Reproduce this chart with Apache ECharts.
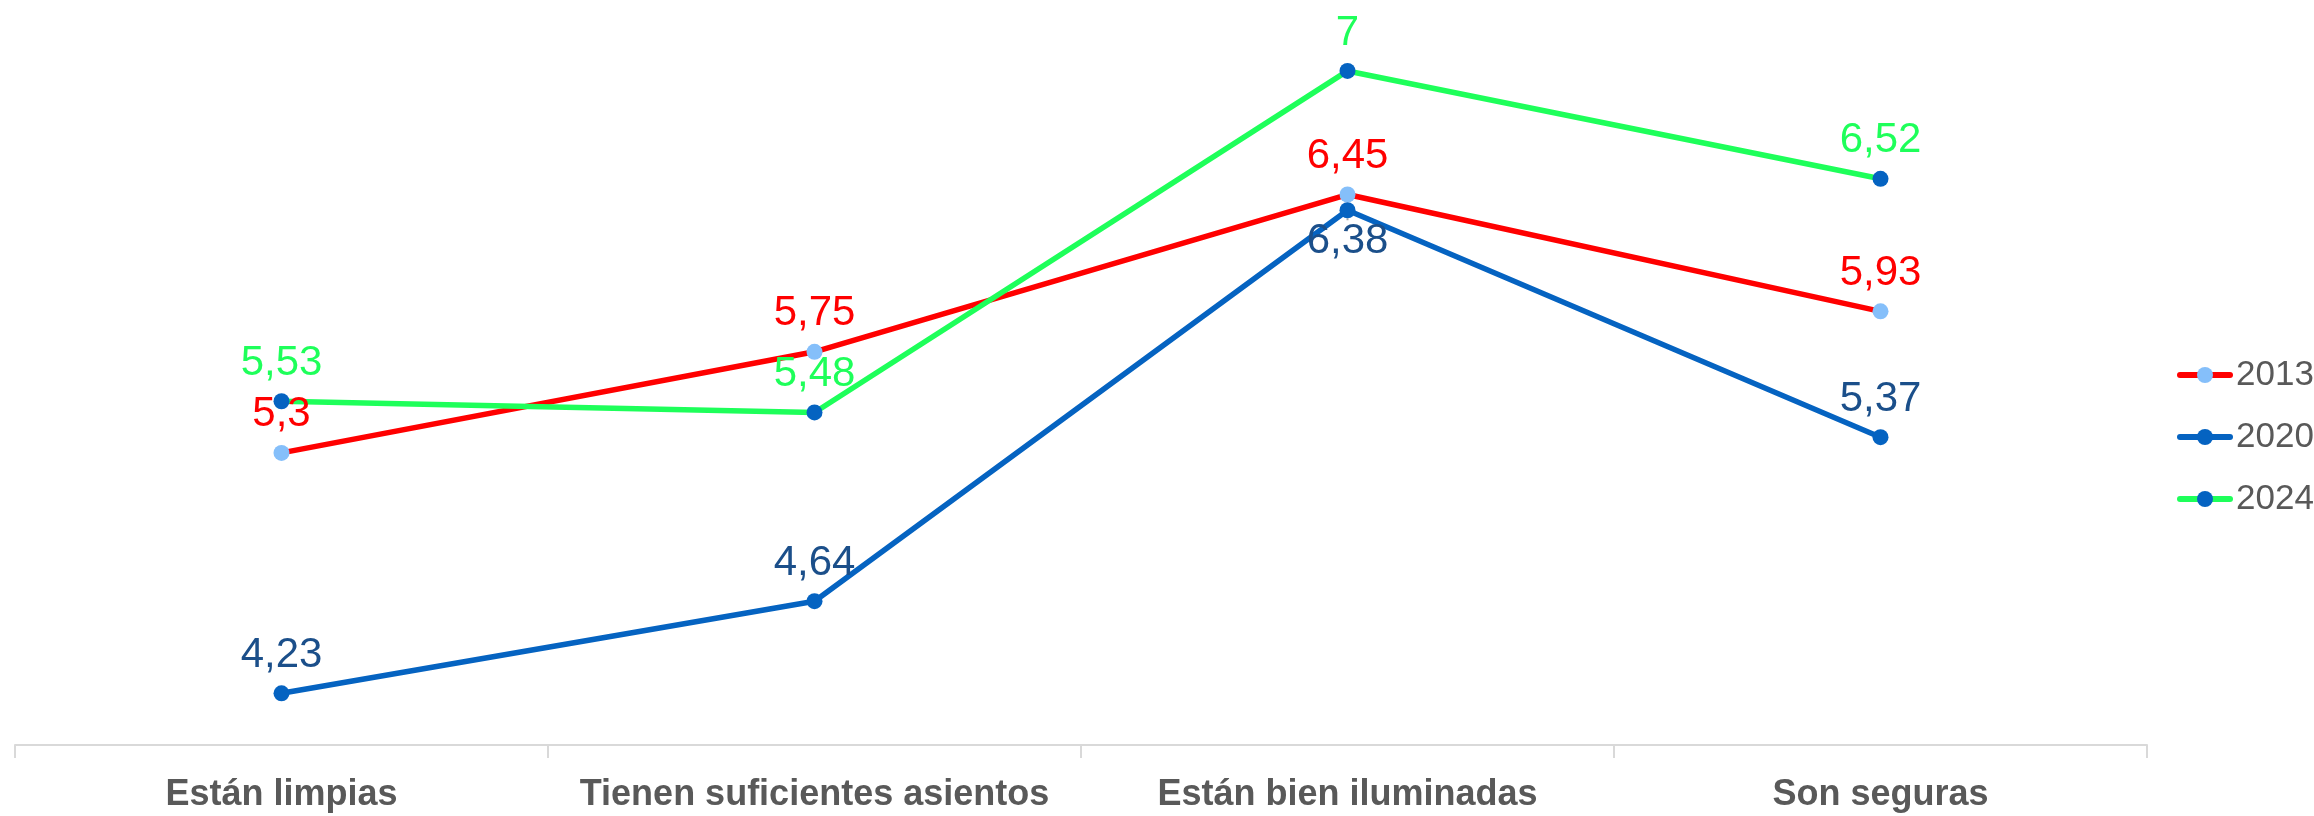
<!DOCTYPE html>
<html>
<head>
<meta charset="utf-8">
<script src="https://cdn.jsdelivr.net/npm/echarts@6/dist/echarts.min.js"></script>
<style>
html,body{margin:0;padding:0;background:#fff;}
#c{width:2314px;height:816px;}
</style>
</head>
<body>
<div id="c"></div>
<script>
const categories = ['Están limpias', 'Tienen suficientes asientos', 'Están bien iluminadas', 'Son seguras'];
const seriesNames = ['2013', '2020', '2024'];
const values2013 = [5.3, 5.75, 6.45, 5.93];
const values2020 = [4.23, 4.64, 6.38, 5.37];
const values2024 = [5.53, 5.48, 7, 6.52];

const fmt = p => String(p.value).replace('.', ',');
const labelFont = '"Liberation Sans", Arial, sans-serif';

// the 2020 label at "Están bien iluminadas" is placed below its point with a leader line
const data2020 = values2020.map((v, i) => i === 2
  ? { value: v, labelLine: { show: true } }
  : v);

const chart = echarts.init(document.getElementById('c'));
chart.setOption({
  animation: false,
  grid: { left: 15, right: 167, top: 26, bottom: 71, containLabel: false },
  legend: {
    orient: 'vertical',
    left: 2172,
    top: 350,
    itemWidth: 50,
    itemHeight: 20,
    itemGap: 22,
    lineStyle: { width: 6, cap: 'round' },
    textStyle: { fontSize: 35, lineHeight: 40, color: '#595959', fontFamily: labelFont, padding: [0, 0, 0, 1] },
    data: seriesNames
  },
  xAxis: {
    type: 'category',
    data: categories,
    boundaryGap: true,
    axisLine: { lineStyle: { color: '#D9D9D9', width: 2 } },
    axisTick: { show: true, length: 13, interval: 0, lineStyle: { color: '#D9D9D9', width: 2 } },
    axisLabel: { interval: 0, fontSize: 36, fontWeight: 'bold', color: '#595959', fontFamily: labelFont, margin: 32 }
  },
  yAxis: { type: 'value', min: 4, max: 7.2, show: false, splitLine: { show: false } },
  series: [
    {
      name: '2013', type: 'line', data: values2013,
      lineStyle: { color: '#FF0000', width: 5.5 },
      itemStyle: { color: '#85BFFA' },
      symbol: 'circle', symbolSize: 16,
      label: { show: true, position: 'top', distance: 9, formatter: fmt, fontSize: 42, color: '#FF0000', fontFamily: labelFont }
    },
    {
      name: '2020', type: 'line', data: data2020,
      lineStyle: { color: '#0563C1', width: 5.5 },
      itemStyle: { color: '#0563C1' },
      symbol: 'circle', symbolSize: 16,
      label: { show: true, position: 'top', distance: 9, formatter: fmt, fontSize: 42, color: '#1B4F8A', fontFamily: labelFont },
      labelLine: { show: false, lineStyle: { color: '#A6A6A6', width: 2 } },
      labelLayout: function (p) { return p.dataIndex === 2 ? { dy: 69 } : {}; }
    },
    {
      name: '2024', type: 'line', data: values2024,
      lineStyle: { color: '#1EFF5A', width: 5.5 },
      itemStyle: { color: '#0563C1' },
      symbol: 'circle', symbolSize: 16,
      label: { show: true, position: 'top', distance: 9, formatter: fmt, fontSize: 42, color: '#1EFF5A', fontFamily: labelFont }
    }
  ]
});
</script>
</body>
</html>
